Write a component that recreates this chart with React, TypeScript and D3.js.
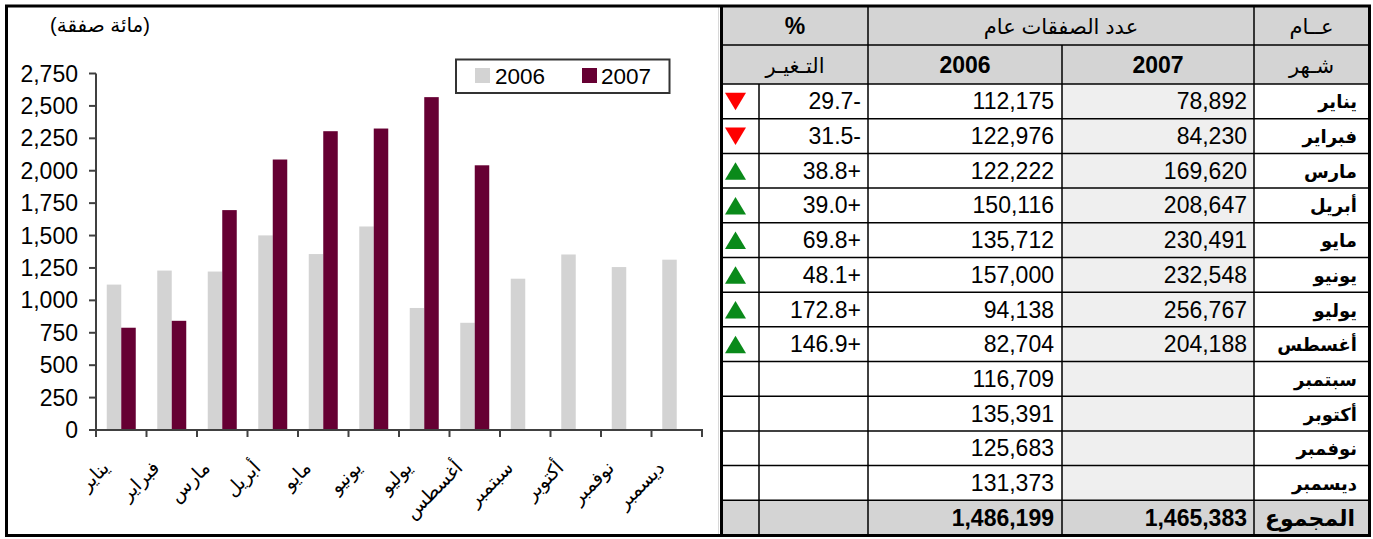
import React from "react";
import * as d3 from "d3";

const months = ["يناير", "فبراير", "مارس", "أبريل", "مايو", "يونيو", "يوليو", "أغسطس", "سبتمبر", "أكتوبر", "نوفمبر", "ديسمبر"];
const deals2006 = [112175, 122976, 122222, 150116, 135712, 157000, 94138, 82704, 116709, 135391, 125683, 131373];
const deals2007 = [78892, 84230, 169620, 208647, 230491, 232548, 256767, 204188];
const changePct = [-29.7, -31.5, 38.8, 39.0, 69.8, 48.1, 172.8, 146.9];
const total2006 = 1486199;
const total2007 = 1465383;
const yTicks = [0, 250, 500, 750, 1000, 1250, 1500, 1750, 2000, 2250, 2500, 2750];
const seriesNames = ["2006", "2007"];

const FONT = "'Liberation Sans', Arial, 'DejaVu Sans', sans-serif";
const C2006 = "#d3d3d3";
const C2007 = "#660033";
const HEAD = "#d4d4d4";
const LIGHT = "#efefef";

export default function App() {
  const x = d3.scaleBand<string>().domain(months).range([96, 702]).paddingInner(0).paddingOuter(0);
  const y = d3.scaleLinear().domain([0, 2750]).range([430, 73.5]);
  const inner = d3.scaleBand<string>().domain(seriesNames).range([0, 29]);
  const fmt = d3.format(",");
  const bw = x.bandwidth();

  const colX = [722, 759, 868, 1062, 1254, 1369];
  const rows = d3.range(13);
  const rowY = d3.scaleBand<number>().domain(rows).range([84, 535]);
  const rh = rowY.bandwidth();

  const axisColor = "#404040";
  const NUM = 23;

  return (
    <svg width={1373} height={539} style={{ position: "absolute", left: 0, top: 0, fontFamily: FONT }}>
      <rect x={0} y={0} width={1373} height={539} fill="#fff" />
      <text x={100} y={32} fontSize={20} textAnchor="middle" fill="#000" direction="rtl">(مائة صفقة)</text>

      {months.map((m, i) => {
        const x0 = (x(m) as number) + (bw - 29) / 2;
        const v6 = deals2006[i] / 100;
        const v7 = deals2007[i];
        return (
          <g key={m}>
            <rect x={x0 + (inner("2006") as number)} y={y(v6)} width={inner.bandwidth()} height={y(0) - y(v6)} fill={C2006} />
            {v7 !== undefined && (
              <rect x={x0 + (inner("2007") as number)} y={y(v7 / 100)} width={inner.bandwidth()} height={y(0) - y(v7 / 100)} fill={C2007} />
            )}
          </g>
        );
      })}

      <line x1={96} x2={96} y1={y(2750)} y2={y(0)} stroke={axisColor} strokeWidth={2} />
      {yTicks.map((t) => (
        <g key={t}>
          <line x1={89} x2={96} y1={y(t)} y2={y(t)} stroke={axisColor} strokeWidth={2} />
          <text x={78} y={y(t) + 8} fontSize={23} textAnchor="end" fill="#000">{fmt(t)}</text>
        </g>
      ))}

      <line x1={95} x2={703} y1={y(0)} y2={y(0)} stroke={axisColor} strokeWidth={2} />
      {[...months.map((m) => x(m) as number), 702].map((px, i) => (
        <line key={i} x1={px} x2={px} y1={y(0)} y2={y(0) + 7} stroke={axisColor} strokeWidth={2} />
      ))}
      {months.map((m) => {
        const cx = (x(m) as number) + bw / 2 - 11;
        const cy = 469;
        return (
          <text key={m} x={cx} y={cy} fontSize={19} textAnchor="end" transform={`rotate(-45 ${cx} ${cy})`} fill="#000">{m}</text>
        );
      })}

      <rect x={456} y={59.5} width={213.5} height={33.5} fill="#fff" stroke="#333" strokeWidth={2} />
      <rect x={475} y={68} width={15} height={15} fill={C2006} />
      <text x={495} y={84} fontSize={22.5} fill="#000">2006</text>
      <rect x={582} y={68} width={15} height={15} fill={C2007} />
      <text x={601} y={84} fontSize={22.5} fill="#000">2007</text>

      <rect x={colX[0]} y={7} width={colX[5] - colX[0]} height={77} fill={HEAD} />
      <rect x={colX[3]} y={84} width={colX[4] - colX[3]} height={(rowY(12) as number) - 84} fill={LIGHT} />
      <rect x={colX[0]} y={rowY(12) as number} width={colX[5] - colX[0]} height={rh} fill={HEAD} />

      <text x={(colX[0] + colX[2]) / 2} y={34} fontSize={23} fontWeight="bold" textAnchor="middle">%</text>
      <text x={(colX[2] + colX[4]) / 2} y={34} fontSize={21} textAnchor="middle" direction="rtl">عدد الصفقات عام</text>
      <text x={(colX[4] + colX[5]) / 2} y={34} fontSize={21} textAnchor="middle" direction="rtl">عــام</text>
      <text x={(colX[0] + colX[2]) / 2} y={73} fontSize={21} textAnchor="middle" direction="rtl">التـغيـر</text>
      <text x={(colX[2] + colX[3]) / 2} y={73} fontSize={23} fontWeight="bold" textAnchor="middle">2006</text>
      <text x={(colX[3] + colX[4]) / 2} y={73} fontSize={23} fontWeight="bold" textAnchor="middle">2007</text>
      <text x={(colX[4] + colX[5]) / 2} y={73} fontSize={21} textAnchor="middle" direction="rtl">شـهر</text>

      {months.map((m, i) => {
        const top = rowY(i) as number;
        const base = top + rh / 2 + 8;
        const pct = changePct[i];
        const v7 = deals2007[i];
        const mid = top + rh / 2;
        return (
          <g key={m}>
            {pct !== undefined && (
              <>
                {pct < 0 ? (
                  <path d={`M${725},${mid - 8.5} L${746},${mid - 8.5} L${735.5},${mid + 9} Z`} fill="#ff0000" />
                ) : (
                  <path d={`M${725},${mid + 9} L${746},${mid + 9} L${735.5},${mid - 8.5} Z`} fill="#0a8a1a" />
                )}
                <text x={colX[2] - 7} y={base} fontSize={NUM} textAnchor="end" direction="ltr">
                  {`${Math.abs(pct).toFixed(1)}${pct < 0 ? "-" : "+"}`}
                </text>
              </>
            )}
            <text x={colX[3] - 8} y={base} fontSize={NUM} textAnchor="end">{fmt(deals2006[i])}</text>
            {v7 !== undefined && (
              <text x={colX[4] - 7} y={base} fontSize={NUM} textAnchor="end">{fmt(v7)}</text>
            )}
            <text x={colX[5] - 12} y={base - 1} fontSize={18} fontWeight="bold" textAnchor="start" direction="rtl">{m}</text>
          </g>
        );
      })}

      {(() => {
        const top = rowY(12) as number;
        const base = top + rh / 2 + 8;
        return (
          <g>
            <text x={colX[3] - 8} y={base} fontSize={NUM} fontWeight="bold" textAnchor="end">{fmt(total2006)}</text>
            <text x={colX[4] - 7} y={base} fontSize={NUM} fontWeight="bold" textAnchor="end">{fmt(total2007)}</text>
            <text x={colX[5] - 14} y={base} fontSize={22} fontWeight="bold" textAnchor="start" direction="rtl">المجموع</text>
          </g>
        );
      })()}

      <line x1={colX[0]} x2={colX[5]} y1={45} y2={45} stroke="#000" strokeWidth={1.5} />
      <line x1={colX[0]} x2={colX[5]} y1={84} y2={84} stroke="#000" strokeWidth={1.5} />
      {rows.slice(1).map((r) => (
        <line key={r} x1={colX[0]} x2={colX[5]} y1={rowY(r) as number} y2={rowY(r) as number} stroke="#000" strokeWidth={1.5} />
      ))}
      <line x1={colX[1]} x2={colX[1]} y1={84} y2={535} stroke="#000" strokeWidth={1.5} />
      <line x1={colX[2]} x2={colX[2]} y1={7} y2={535} stroke="#000" strokeWidth={1.5} />
      <line x1={colX[3]} x2={colX[3]} y1={45} y2={535} stroke="#000" strokeWidth={1.5} />
      <line x1={colX[4]} x2={colX[4]} y1={7} y2={535} stroke="#000" strokeWidth={1.5} />

      <line x1={718.5} x2={718.5} y1={7} y2={535} stroke="#d8d8d8" strokeWidth={1} />
      <line x1={721.5} x2={721.5} y1={5} y2={537} stroke="#000" strokeWidth={3} />
      <rect x={6.5} y={6} width={1363} height={529.5} fill="none" stroke="#000" strokeWidth={3} />
    </svg>
  );
}
